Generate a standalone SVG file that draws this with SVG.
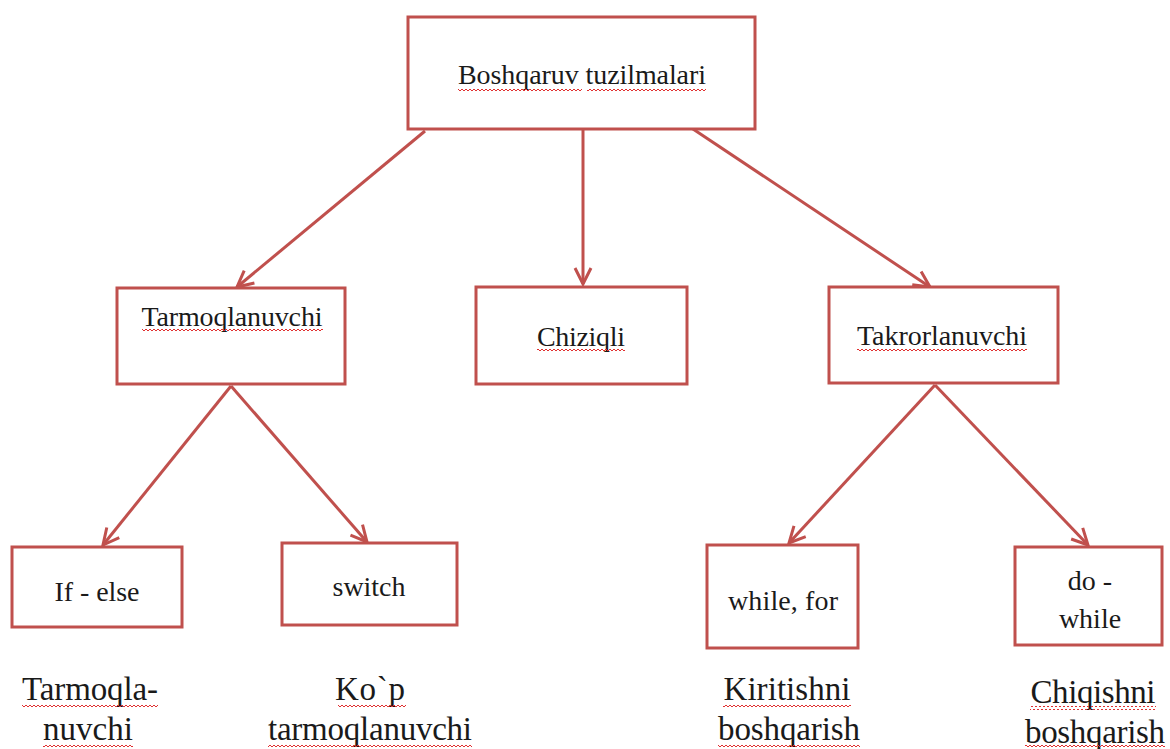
<svg xmlns="http://www.w3.org/2000/svg" width="1170" height="749" viewBox="0 0 1170 749">
<style>
.box{fill:#fff;stroke:#C0504D;stroke-width:3}
.con{stroke:#C0504D;stroke-width:3;fill:none}
text{font-family:'Liberation Serif','DejaVu Serif','Times New Roman',serif;fill:#1a1a1a;text-anchor:middle}
.s{font-size:28px}
.b{font-size:33px}
.w{fill:url(#wave)}
</style>
<defs>
<marker id="ah" viewBox="0 0 20 20" refX="18" refY="10" markerWidth="20" markerHeight="20" markerUnits="userSpaceOnUse" orient="auto">
<path d="M2,2 L18,10 L2,18" fill="none" stroke="#C0504D" stroke-width="3"/>
</marker>
<pattern id="wave" width="4" height="4" patternUnits="userSpaceOnUse">
<path d="M0,3 L2,1 L4,3" fill="none" stroke="#E03030" stroke-width="1"/>
</pattern>
</defs>
<g id="connectors">
<line class="con" x1="425" y1="131" x2="237" y2="287" marker-end="url(#ah)"/>
<line class="con" x1="583" y1="130" x2="583" y2="284" marker-end="url(#ah)"/>
<line class="con" x1="687" y1="125" x2="930" y2="287" marker-end="url(#ah)"/>
<line class="con" x1="231" y1="386" x2="103" y2="545" marker-end="url(#ah)"/>
<line class="con" x1="231" y1="386" x2="367" y2="542" marker-end="url(#ah)"/>
<line class="con" x1="935" y1="385" x2="789" y2="543" marker-end="url(#ah)"/>
<line class="con" x1="935" y1="385" x2="1088" y2="545" marker-end="url(#ah)"/>
</g>
<g id="n-root">
<rect class="box" x="408" y="17" width="347" height="112"/>
<text class="s" x="582" y="84" textLength="248">Boshqaruv tuzilmalari</text>
<rect class="w" x="458" y="87" width="124" height="4"/>
<rect class="w" x="587" y="87" width="119" height="4"/>
</g>
<g id="n-tarmoq">
<rect class="box" x="117" y="288" width="228" height="96"/>
<text class="s" x="232" y="326" textLength="181">Tarmoqlanuvchi</text>
<rect class="w" x="142" y="329" width="181" height="4"/>
</g>
<g id="n-chiziqli">
<rect class="box" x="476" y="287" width="211" height="97"/>
<text class="s" x="581" y="346" textLength="88">Chiziqli</text>
<rect class="w" x="537" y="349" width="88" height="4"/>
</g>
<g id="n-takror">
<rect class="box" x="829" y="287" width="229" height="96"/>
<text class="s" x="942" y="345" textLength="170">Takrorlanuvchi</text>
<rect class="w" x="857" y="348" width="170" height="4"/>
</g>
<g id="n-ifelse">
<rect class="box" x="12" y="547" width="170" height="80"/>
<text class="s" x="97" y="601" textLength="85">If - else</text>
</g>
<g id="n-switch">
<rect class="box" x="282" y="543" width="175" height="82"/>
<text class="s" x="369" y="596" textLength="73">switch</text>
</g>
<g id="n-whilefor">
<rect class="box" x="707" y="545" width="151" height="103"/>
<text class="s" x="783" y="610" textLength="110">while,  for</text>
</g>
<g id="n-dowhile">
<rect class="box" x="1015" y="547" width="147" height="98"/>
<text class="s" x="1090" y="590">do -</text>
<text class="s" x="1090" y="628">while</text>
</g>
<g id="l-1">
<text class="b" x="90" y="700" textLength="136">Tarmoqla-</text>
<text class="b" x="88" y="740" textLength="90">nuvchi</text>
<rect class="w" x="22" y="703" width="136" height="4"/>
<rect class="w" x="43" y="743" width="90" height="4"/>
</g>
<g id="l-2">
<text class="b" x="370" y="700" textLength="70">Ko`p</text>
<text class="b" x="370" y="740" textLength="204">tarmoqlanuvchi</text>
<rect class="w" x="338" y="703" width="68" height="4"/>
<rect class="w" x="268" y="743" width="204" height="4"/>
</g>
<g id="l-3">
<text class="b" x="787" y="700" textLength="127">Kiritishni</text>
<text class="b" x="789" y="740" textLength="142">boshqarish</text>
<rect class="w" x="723" y="703" width="128" height="4"/>
<rect class="w" x="718" y="743" width="142" height="4"/>
</g>
<g id="l-4">
<text class="b" x="1093" y="703" textLength="125">Chiqishni</text>
<text class="b" x="1095" y="743" textLength="140">boshqarish</text>
<rect class="w" x="1030" y="706" width="126" height="4"/>
<rect class="w" x="1025" y="745" width="140" height="4"/>
</g>
</svg>
